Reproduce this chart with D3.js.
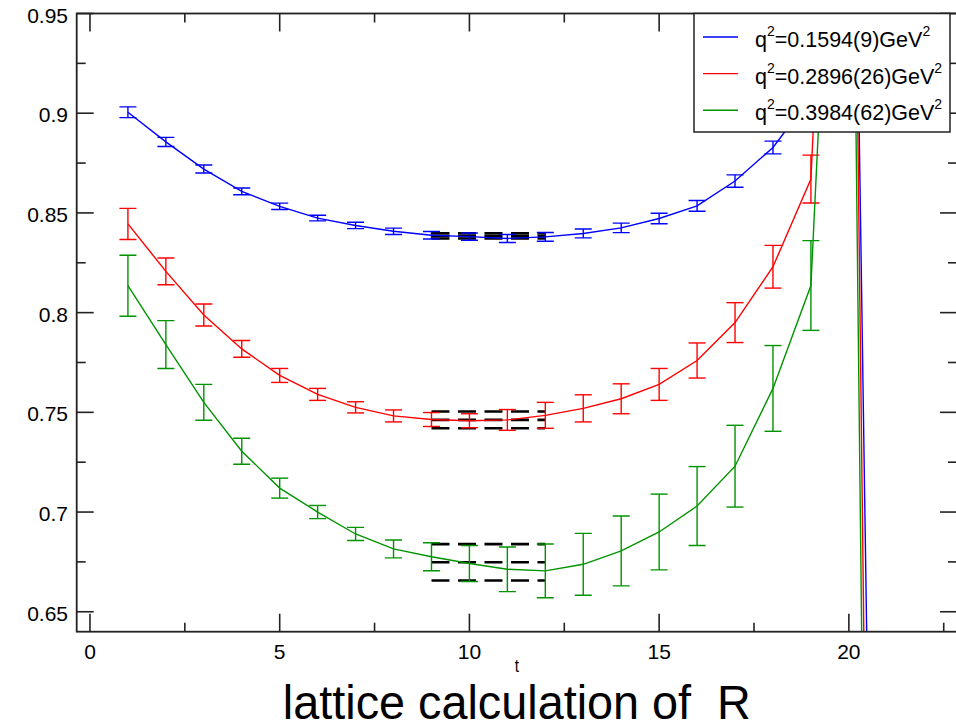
<!DOCTYPE html>
<html><head><meta charset="utf-8">
<script src="https://cdnjs.cloudflare.com/ajax/libs/d3/7.8.5/d3.min.js"></script>
<style>
html,body{margin:0;padding:0;background:#fff;}
svg{display:block;font-family:"Liberation Sans",Arial,Helvetica,sans-serif;}
</style></head>
<body><svg id="c" width="956" height="722"></svg>
<script>
// ---- data ----
const tValues = [1,2,3,4,5,6,7,8,9,10,11,12,13,14,15,16,17,18,19,20,21];
const blueValues = [0.9005,0.8856,0.8720,0.8608,0.8533,0.8474,0.8437,0.8408,0.8388,0.8381,0.8372,0.8380,0.8397,0.8425,0.8472,0.8535,0.8660,0.8828,0.9080,1.24,-0.038];
const blueErrors = [0.0027,0.0023,0.0020,0.0017,0.0016,0.0014,0.0016,0.0016,0.0019,0.0018,0.0020,0.0022,0.0022,0.0024,0.0026,0.0027,0.0031,0.0032,0.0035,0.004,0.004];
const redValues = [0.8445,0.8207,0.7988,0.7818,0.7685,0.7590,0.7525,0.7482,0.7464,0.7458,0.7462,0.7485,0.7520,0.7568,0.7640,0.7760,0.7950,0.8230,0.8670,1.27,-0.33];
const redErrors = [0.0078,0.0067,0.0055,0.0042,0.0035,0.0030,0.0028,0.0030,0.0035,0.0035,0.0052,0.0065,0.0068,0.0075,0.0080,0.0088,0.0100,0.0107,0.0120,0.015,0.015];
const greenValues = [0.8135,0.7840,0.7550,0.7305,0.7120,0.7000,0.6890,0.6815,0.6776,0.6742,0.6713,0.6705,0.6738,0.6805,0.6900,0.7030,0.7230,0.7620,0.8136,1.21,-0.48];
const greenErrors = [0.0153,0.0120,0.0090,0.0065,0.0050,0.0033,0.0033,0.0045,0.0070,0.0090,0.0112,0.0135,0.0155,0.0175,0.0190,0.0198,0.0205,0.0215,0.0225,0.03,0.03];
const seriesNames = ["blue","red","green"];
const legendMain = ["=0.1594(9)GeV","=0.2896(26)GeV","=0.3984(62)GeV"];
const fitCenters = [0.8385,0.7462,0.6748];
const fitErrors = [0.0013,0.0042,0.0091];
const fitRange = [9,12];
const xTicks = [0,5,10,15,20];
const xMinorTicks = [2.5,7.5,12.5,17.5,22.5];
const yTicks = [0.65,0.7,0.75,0.8,0.85,0.9,0.95];
const yMinorTicks = [0.675,0.725,0.775,0.825,0.875,0.925];
const xTitle = "t";
const chartTitle = "lattice calculation of  R";

// ---- layout ----
const colors = {blue:"#0000ff", red:"#ff0000", green:"#009400"};
const L=76.7, R=957, T=13.5, B=631.7;
const x = d3.scaleLinear().domain([-0.35,22.85]).range([L,R]);
const y = d3.scaleLinear().domain([0.64,0.95]).range([B,T]);
const svg = d3.select("#c");
svg.append("defs").append("clipPath").attr("id","clip")
  .append("rect").attr("x",L).attr("y",T).attr("width",R-L).attr("height",B-T);

const series = [
  {name:"blue", vals:blueValues, errs:blueErrors},
  {name:"red", vals:redValues, errs:redErrors},
  {name:"green", vals:greenValues, errs:greenErrors}
];

const plot = svg.append("g").attr("clip-path","url(#clip)");

// fit bands (dashed black)
fitCenters.forEach((c,i)=>{
  [c+fitErrors[i], c, c-fitErrors[i]].forEach(v=>{
    plot.append("line").attr("x1",x(fitRange[0])).attr("x2",x(fitRange[1]))
      .attr("y1",y(v)).attr("y2",y(v))
      .attr("stroke","#000").attr("stroke-width",2.6).attr("stroke-dasharray","18,8.5");
  });
});

series.forEach(s=>{
  const pts = tValues.map((t,i)=>({t, v:s.vals[i], e:s.errs[i]}));
  plot.append("path").datum(pts)
    .attr("d", d3.line().x(d=>x(d.t)).y(d=>y(d.v)))
    .attr("fill","none").attr("stroke",colors[s.name]).attr("stroke-width",1.4);
  const g = plot.append("g").attr("stroke",colors[s.name]).attr("stroke-width",1.4);
  pts.forEach(d=>{
    const cx=x(d.t), y1=y(d.v+d.e), y2=y(d.v-d.e);
    g.append("line").attr("x1",cx).attr("x2",cx).attr("y1",y1).attr("y2",y2);
    g.append("line").attr("x1",cx-8.5).attr("x2",cx+8.5).attr("y1",y1).attr("y2",y1);
    g.append("line").attr("x1",cx-8.5).attr("x2",cx+8.5).attr("y1",y2).attr("y2",y2);
  });
});

// axes / frame
const axCol="#222";
const axG = svg.append("g").attr("stroke",axCol).attr("stroke-width",1.6);
xTicks.forEach(t=>{
  axG.append("line").attr("x1",x(t)).attr("x2",x(t)).attr("y1",B).attr("y2",B-18);
  axG.append("line").attr("x1",x(t)).attr("x2",x(t)).attr("y1",T).attr("y2",T+18);
});
xMinorTicks.forEach(t=>{
  axG.append("line").attr("x1",x(t)).attr("x2",x(t)).attr("y1",B).attr("y2",B-9);
  axG.append("line").attr("x1",x(t)).attr("x2",x(t)).attr("y1",T).attr("y2",T+9);
});
yTicks.forEach(v=>{
  axG.append("line").attr("x1",L).attr("x2",L+17).attr("y1",y(v)).attr("y2",y(v));
  axG.append("line").attr("x1",R).attr("x2",R-17).attr("y1",y(v)).attr("y2",y(v));
});
yMinorTicks.forEach(v=>{
  axG.append("line").attr("x1",L).attr("x2",L+9).attr("y1",y(v)).attr("y2",y(v));
  axG.append("line").attr("x1",R).attr("x2",R-9).attr("y1",y(v)).attr("y2",y(v));
});
svg.append("rect").attr("x",L).attr("y",T).attr("width",R-L).attr("height",B-T)
  .attr("fill","none").attr("stroke",axCol).attr("stroke-width",1.8);

// tick labels
svg.append("g").selectAll("text").data(xTicks).join("text")
  .attr("x",d=>x(d)).attr("y",658.5).attr("text-anchor","middle")
  .attr("font-size",21).attr("fill","#000").text(d=>d3.format("")(d));
svg.append("g").selectAll("text").data(yTicks).join("text")
  .attr("x",68).attr("y",d=>y(d)+9).attr("text-anchor","end")
  .attr("font-size",21).attr("fill","#000").text(d=>String(d));

// axis title and chart title
svg.append("text").attr("x",(L+R)/2).attr("y",672).attr("text-anchor","middle")
  .attr("font-size",19).attr("fill","#000")
  .attr("transform",`translate(${(L+R)/2},0) scale(0.8,1) translate(${-(L+R)/2},0)`).text(xTitle);
svg.append("text").attr("x",(L+R)/2).attr("y",719).attr("text-anchor","middle")
  .attr("font-size",48).attr("fill","#000").style("white-space","pre")
  .attr("textLength",468).attr("lengthAdjust","spacingAndGlyphs").text(chartTitle);

// legend
const lg = svg.append("g");
lg.append("rect").attr("x",694).attr("y",13.5).attr("width",256).attr("height",118.5)
  .attr("fill","#fff").attr("stroke","#222").attr("stroke-width",1.5);
seriesNames.forEach((n,i)=>{
  const ly = 37 + i*36.6;
  lg.append("line").attr("x1",703).attr("x2",738).attr("y1",ly).attr("y2",ly)
    .attr("stroke",colors[n]).attr("stroke-width",1.4);
  const tx = lg.append("text").attr("x",755).attr("y",ly+10).attr("font-size",21.5).attr("fill","#000");
  tx.append("tspan").text("q");
  tx.append("tspan").attr("font-size",14).attr("dy",-11).text("2");
  tx.append("tspan").attr("dy",11).text(legendMain[i]);
  tx.append("tspan").attr("font-size",14).attr("dy",-11).text("2");
});
</script></body></html>
